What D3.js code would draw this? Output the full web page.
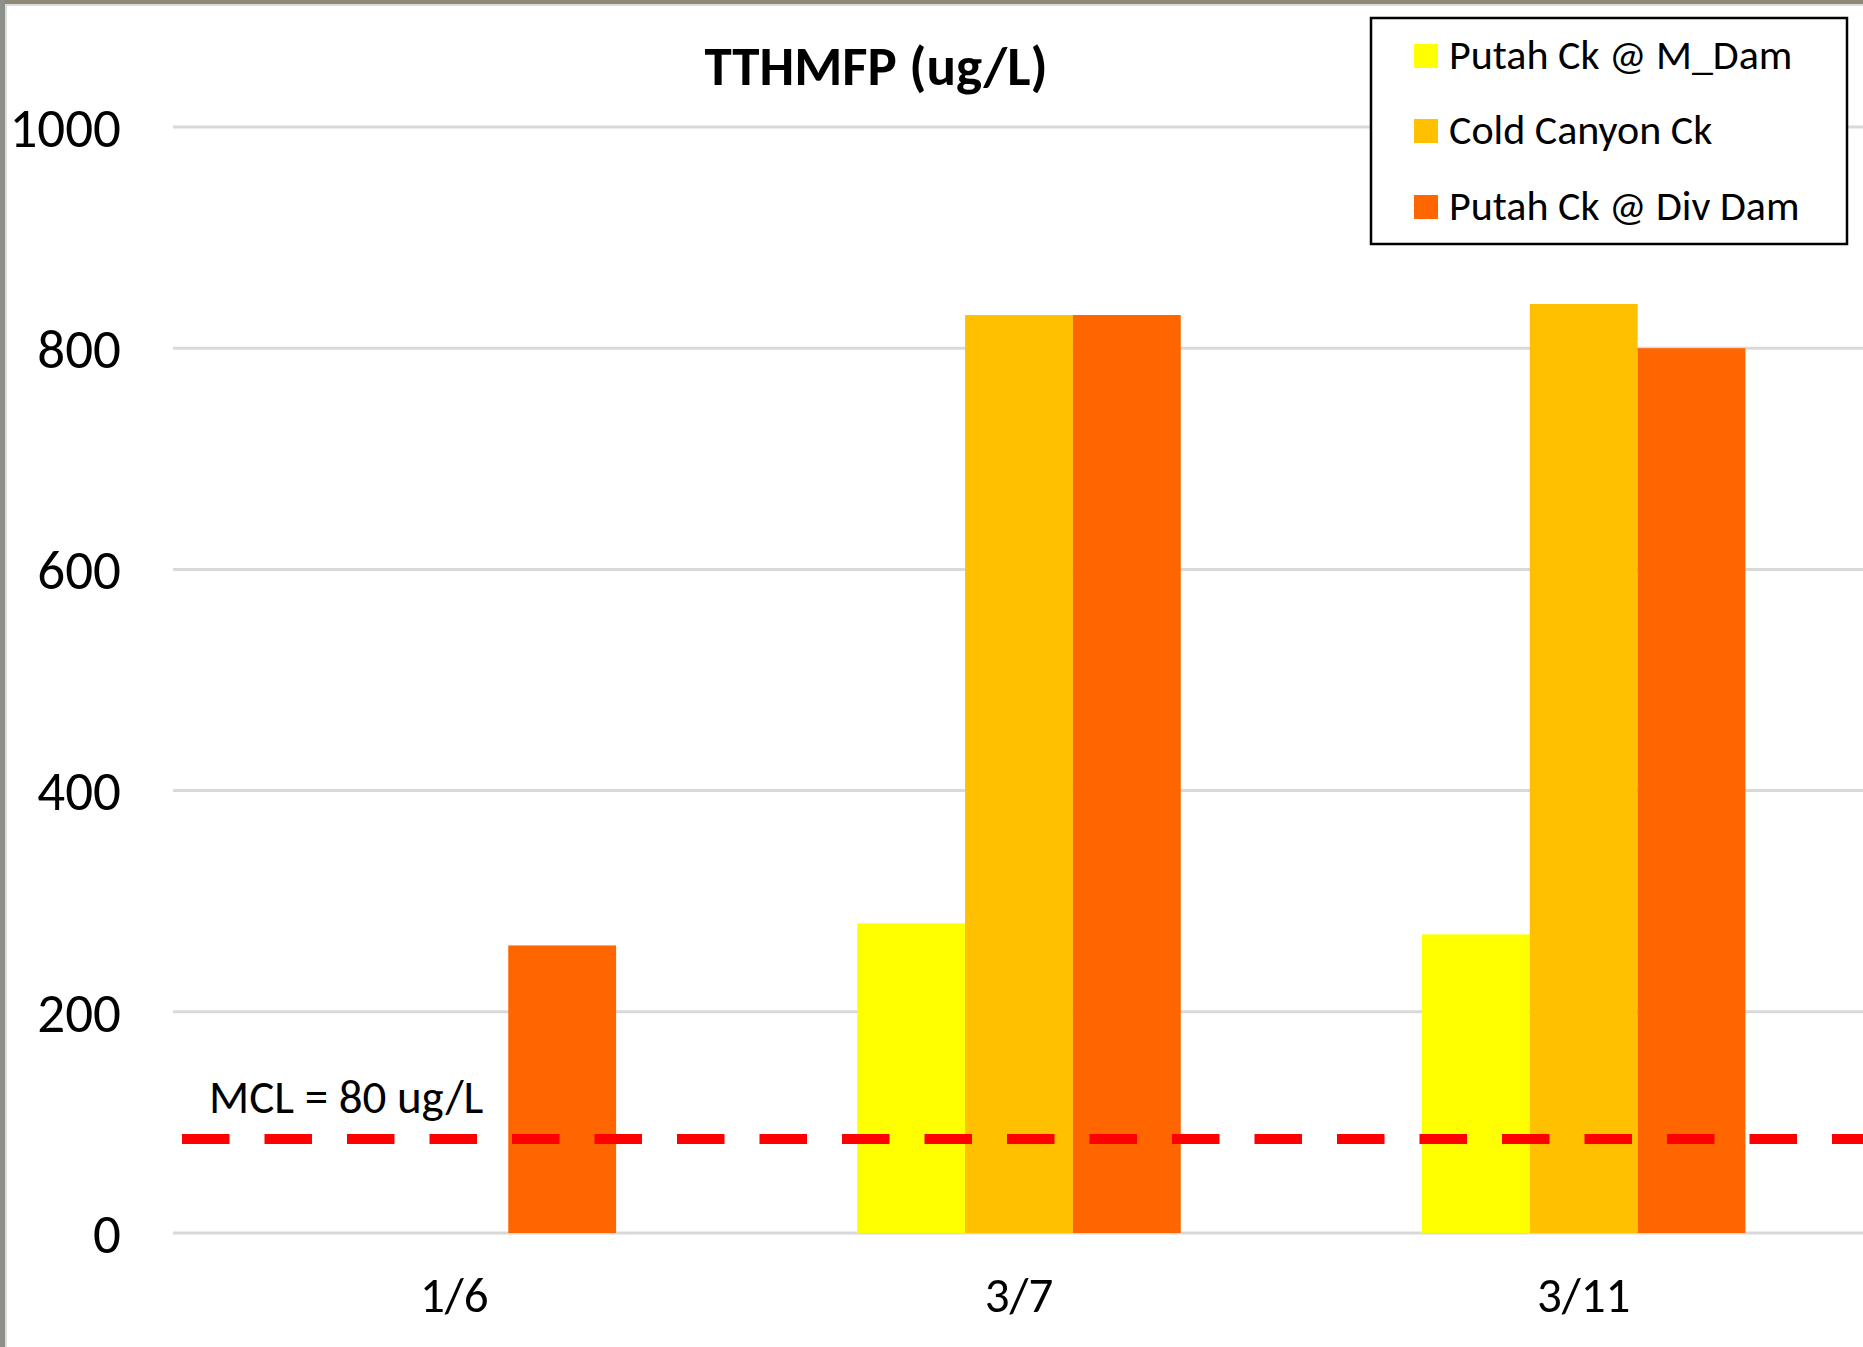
<!DOCTYPE html>
<html>
<head>
<meta charset="utf-8">
<script src="https://cdn.jsdelivr.net/npm/d3@7"></script>
<style>
  html, body { margin: 0; padding: 0; background: #fff; }
  svg { display: block; }
  text { font-family: Carlito, Calibri, Lato, "Open Sans", sans-serif; }
</style>
</head>
<body>
<svg id="chart" width="1863" height="1347"></svg>
<script>
// ---- data ----
const categories = ["1/6", "3/7", "3/11"];
const seriesNames = ["Putah Ck @ M_Dam", "Cold Canyon Ck", "Putah Ck @ Div Dam"];
const seriesColors = ["#ffff00", "#ffc000", "#ff6600"];
const putahMDam = [null, 280, 270];
const coldCanyon = [null, 830, 840];
const putahDivDam = [260, 830, 800];
const yTicks = [0, 200, 400, 600, 800, 1000];
const mclValue = 85;
const mclLabel = "MCL = 80 ug/L";
const title = "TTHMFP (ug/L)";

const seriesValues = [putahMDam, coldCanyon, putahDivDam];

const svg = d3.select("#chart");
const W = 1863, H = 1347;

// background photo-edge strips
svg.append("rect").attr("x", 0).attr("y", 0).attr("width", W).attr("height", 4).attr("fill", "#8f8a78");
svg.append("rect").attr("x", 0).attr("y", 0).attr("width", 5).attr("height", H).attr("fill", "#8c9088");
svg.append("rect").attr("x", 5).attr("y", 4).attr("width", 2).attr("height", H).attr("fill", "#dcdcdc");
svg.append("rect").attr("x", 5).attr("y", 4).attr("width", W).attr("height", 2).attr("fill", "#dcdcdc");

const plotLeft = 172, plotRight = 1866, yTop = 127, yBottom = 1233;

const x = d3.scaleBand().domain(categories).range([plotLeft, plotRight]).paddingInner(0.427).paddingOuter(0.2135);
const xs = d3.scaleBand().domain(seriesNames).range([0, x.bandwidth()]);
const y = d3.scaleLinear().domain([0, 1000]).range([yBottom, yTop]);

// gridlines
svg.append("g").selectAll("line").data(yTicks).join("line")
  .attr("x1", 173).attr("x2", W)
  .attr("y1", d => y(d)).attr("y2", d => y(d))
  .attr("stroke", "#d9d9d9").attr("stroke-width", 3);

// y axis labels
const yAxis = d3.axisLeft(y).tickValues(yTicks).tickSize(0).tickPadding(0).tickFormat(d3.format("d"));
const yg = svg.append("g").attr("transform", `translate(121,0)`).call(yAxis);
yg.select(".domain").remove();
yg.selectAll("text").attr("font-size", 55).attr("fill", "#000").attr("dy", "0.35em")
  .style("font-family", "Carlito, Calibri, Lato, 'Open Sans', sans-serif");

// x axis labels
const xAxis = d3.axisBottom(x).tickSize(0).tickPadding(0);
const xg = svg.append("g").attr("transform", `translate(0,1295)`).call(xAxis);
xg.select(".domain").remove();
xg.selectAll("text").attr("font-size", 49).attr("fill", "#000").attr("dy", "0.35em")
  .style("font-family", "Carlito, Calibri, Lato, 'Open Sans', sans-serif");

// bars
const barData = [];
categories.forEach((c, i) => {
  seriesNames.forEach((s, j) => {
    const v = seriesValues[j][i];
    if (v != null) barData.push({ c, s, v, color: seriesColors[j] });
  });
});
svg.append("g").selectAll("rect").data(barData).join("rect")
  .attr("x", d => x(d.c) + xs(d.s))
  .attr("width", xs.bandwidth())
  .attr("y", d => y(d.v))
  .attr("height", d => y(0) - y(d.v))
  .attr("fill", d => d.color);

// MCL dashed line
svg.append("line")
  .attr("x1", 182).attr("x2", W)
  .attr("y1", y(mclValue)).attr("y2", y(mclValue))
  .attr("stroke", "#ff0000").attr("stroke-width", 10)
  .attr("stroke-dasharray", "47.5,35");

svg.append("text").attr("x", 209).attr("y", 1113)
  .attr("font-size", 47).attr("fill", "#000").text(mclLabel);

// title
svg.append("text").attr("x", 876).attr("y", 85)
  .attr("text-anchor", "middle").attr("font-size", 55).attr("font-weight", "bold")
  .attr("fill", "#000").text(title);

// legend
const lg = svg.append("g");
lg.append("rect").attr("x", 1371).attr("y", 18).attr("width", 476).attr("height", 226)
  .attr("fill", "#fff").attr("stroke", "#000").attr("stroke-width", 2.5);
const rowY = [56, 131, 207];
seriesNames.forEach((s, i) => {
  lg.append("rect").attr("x", 1414).attr("y", rowY[i] - 12).attr("width", 24).attr("height", 24)
    .attr("fill", seriesColors[i]);
  lg.append("text").attr("x", 1449).attr("y", rowY[i] - 2).attr("dy", "0.35em")
    .attr("font-size", 42).attr("fill", "#000").text(s);
});
</script>
</body>
</html>
